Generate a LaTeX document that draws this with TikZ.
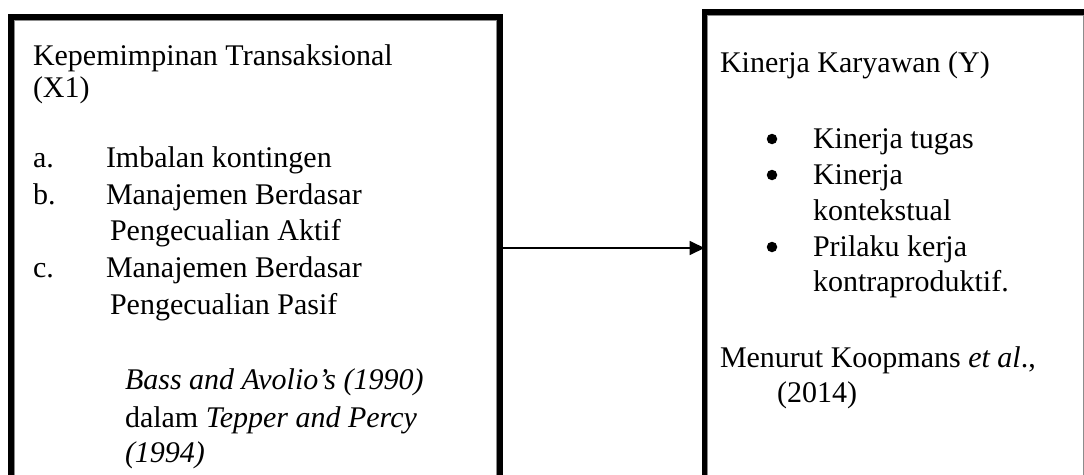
\documentclass[tikz,border=0pt]{standalone}
\usepackage{fontspec}
\setmainfont{Liberation Serif}
\usetikzlibrary{arrows.meta}
\tikzset{
  frame/.style={draw=black, line width=6pt, rectangle, inner sep=0pt, outer sep=0pt},
  innerline/.style={draw=black!45, line width=1pt},
  txt/.style={anchor=base west, inner sep=0pt, outer sep=0pt, font=\fontsize{30}{36}\selectfont},
  dot/.style={circle, fill=black, inner sep=0pt, minimum size=10.5pt},
  conn/.style={line width=1.8pt, -{Triangle[length=15pt,width=14pt]}}
}
\begin{document}
\begin{tikzpicture}[x=1pt,y=-1pt]
\path[use as bounding box, clip] (0,0) rectangle (1084,474);
\fill[white] (0,0) rectangle (1084,474);
% boxes (extend beyond the visible area, as in the reference)
\node[frame, minimum width=489pt, minimum height=583pt] (L) at (255.5,308.5) {};
\node[frame, minimum width=382.5pt, minimum height=588pt] (R) at (895.75,306) {};
\draw[innerline] (14.5,600) -- (14.5,20.5) -- (496.5,20.5) -- (496.5,600);
\draw[innerline] (707.5,600) -- (707.5,15.5) -- (1083.5,15.5) -- (1083.5,600);
% left box text
\node[txt] (l1) at (33,65) {Kepemimpinan Transaksional};
\node[txt] (l2) at (33,97) {(X1)};
\node[txt] (la) at (33,167) {a.};
\node[txt] (la1) at (106,167) {Imbalan kontingen};
\node[txt] (lb) at (33,204) {b.};
\node[txt] (lb1) at (106,204) {Manajemen Berdasar};
\node[txt] (lb2) at (110,240) {Pengecualian Aktif};
\node[txt] (lc) at (33,277) {c.};
\node[txt] (lc1) at (106,277) {Manajemen Berdasar};
\node[txt] (lc2) at (110,314) {Pengecualian Pasif};
\node[txt] (s1) at (125,389) {\itshape Bass and Avolio’s (1990)};
\node[txt] (s2) at (125,427) {dalam \textit{Tepper and Percy}};
\node[txt] (s3) at (125,462) {\itshape (1994)};
% right box text
\node[txt] (r1) at (720,72) {Kinerja Karyawan (Y)};
\node[dot] (b1) at (772,139) {};
\node[txt] (r2) at (813,148) {Kinerja tugas};
\node[dot] (b2) at (772,175) {};
\node[txt] (r3) at (813,184) {Kinerja};
\node[txt] (r4) at (813,220) {kontekstual};
\node[dot] (b3) at (772,247) {};
\node[txt] (r5) at (813,256) {Prilaku kerja};
\node[txt] (r6) at (813,291) {kontraproduktif.};
\node[txt] (m1) at (720,367) {Menurut Koopmans \textit{et al}.,};
\node[txt] (m2) at (777,402) {(2014)};
% connector
\coordinate (ay) at (0,248);
\draw[conn] (L.east |- ay) -- (R.west |- ay);
\end{tikzpicture}
\end{document}
